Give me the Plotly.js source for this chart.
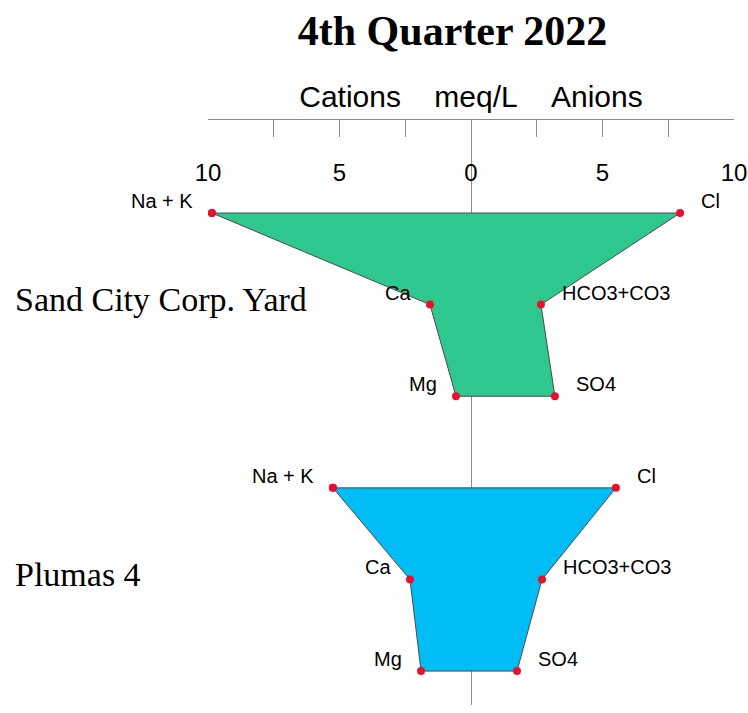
<!DOCTYPE html>
<html>
<head>
<meta charset="utf-8">
<script src="https://cdn.plot.ly/plotly-3.0.1.min.js"></script>
<style>html,body{margin:0;padding:0;background:#fff;}#chart{width:748px;height:713px;}</style>
</head>
<body>
<div id="chart"></div>
<script>
// Data (meq/L)
const sites = ["Sand City Corp. Yard", "Plumas 4"];
const cationNames = ["Na + K", "Ca", "Mg"];
const anionNames = ["Cl", "HCO3+CO3", "SO4"];
const sandCityCations = [9.85, 1.56, 0.57];
const sandCityAnions = [7.95, 2.66, 3.19];
const plumasCations = [5.25, 2.32, 1.90];
const plumasAnions = [5.51, 2.70, 1.75];
const tickVals = [-10, -7.5, -5, -2.5, 0, 2.5, 5, 7.5, 10];
const tickText = ["10", "", "5", "", "0", "", "5", "", "10"];

const siteData = [
  {name: sites[0], cat: sandCityCations, an: sandCityAnions, rowStart: 1, fill: "rgb(46,200,142)"},
  {name: sites[1], cat: plumasCations, an: plumasAnions, rowStart: 4, fill: "rgb(0,190,245)"}
];

const traces = [];
const annotations = [];
siteData.forEach(s => {
  const rows = [s.rowStart, s.rowStart + 1, s.rowStart + 2];
  const xs = [], ys = [];
  for (let i = 0; i < 3; i++) { xs.push(-s.cat[i]); ys.push(rows[i]); }
  for (let i = 2; i >= 0; i--) { xs.push(s.an[i]); ys.push(rows[i]); }
  xs.push(xs[0]); ys.push(ys[0]);
  traces.push({
    type: "scatter", mode: "lines+markers", x: xs, y: ys,
    fill: "toself", fillcolor: s.fill,
    line: {color: "#4a4a4a", width: 1},
    marker: {color: "#e8102e", size: 8, line: {width: 0}},
    hoverinfo: "skip", showlegend: false
  });
  for (let i = 0; i < 3; i++) {
    annotations.push({x: -s.cat[i], y: rows[i], xref: "x", yref: "y", text: cationNames[i],
      showarrow: false, xanchor: "right", yanchor: "middle", xshift: -17, yshift: 12,
      font: {family: "Liberation Sans, Arial, sans-serif", size: 20, color: "#000"}});
    annotations.push({x: s.an[i], y: rows[i], xref: "x", yref: "y", text: anionNames[i],
      showarrow: false, xanchor: "left", yanchor: "middle", xshift: 19, yshift: 12,
      font: {family: "Liberation Sans, Arial, sans-serif", size: 20, color: "#000"}});
  }
  annotations.push({x: -0.3707, y: rows[1], xref: "paper", yref: "y", text: s.name,
    showarrow: false, xanchor: "left", yanchor: "middle", yshift: 5,
    font: {family: "Liberation Serif, Times New Roman, serif", size: 34, color: "#000"}});
});

const layout = {
  width: 748, height: 713,
  margin: {l: 208, r: 14, t: 120, b: 8},
  paper_bgcolor: "#fff", plot_bgcolor: "#fff",
  title: {text: "<b>4th Quarter 2022</b>", x: 0.605, xref: "container", xanchor: "center",
    y: 1 - 30/713, yref: "container", yanchor: "middle",
    font: {family: "Liberation Serif, Times New Roman, serif", size: 42, color: "#000"}},
  xaxis: {
    range: [-10, 10], side: "top", showline: true, linecolor: "#8c8c8c", linewidth: 1,
    ticks: "inside", ticklen: 17, tickcolor: "#8c8c8c", tickwidth: 1,
    tickvals: tickVals, ticktext: tickText,
    ticklabelposition: "inside", ticklabeloverflow: "allow", ticklabelstandoff: 29,
    tickfont: {family: "Liberation Sans, Arial, sans-serif", size: 24, color: "#000"},
    showgrid: false, zeroline: true, zerolinecolor: "#8c8c8c", zerolinewidth: 1,
    title: {text: "Cations\u00a0\u00a0\u00a0\u00a0meq/L\u00a0\u00a0\u00a0\u00a0Anions\u00a0\u00a0", standoff: 42,
      font: {family: "Liberation Sans, Arial, sans-serif", size: 30, color: "#000"}},
    fixedrange: true
  },
  yaxis: {range: [6.37, -0.015], visible: false, fixedrange: true},
  annotations: annotations
};

Plotly.newPlot("chart", traces, layout, {displayModeBar: false, staticPlot: true});
</script>
</body>
</html>
